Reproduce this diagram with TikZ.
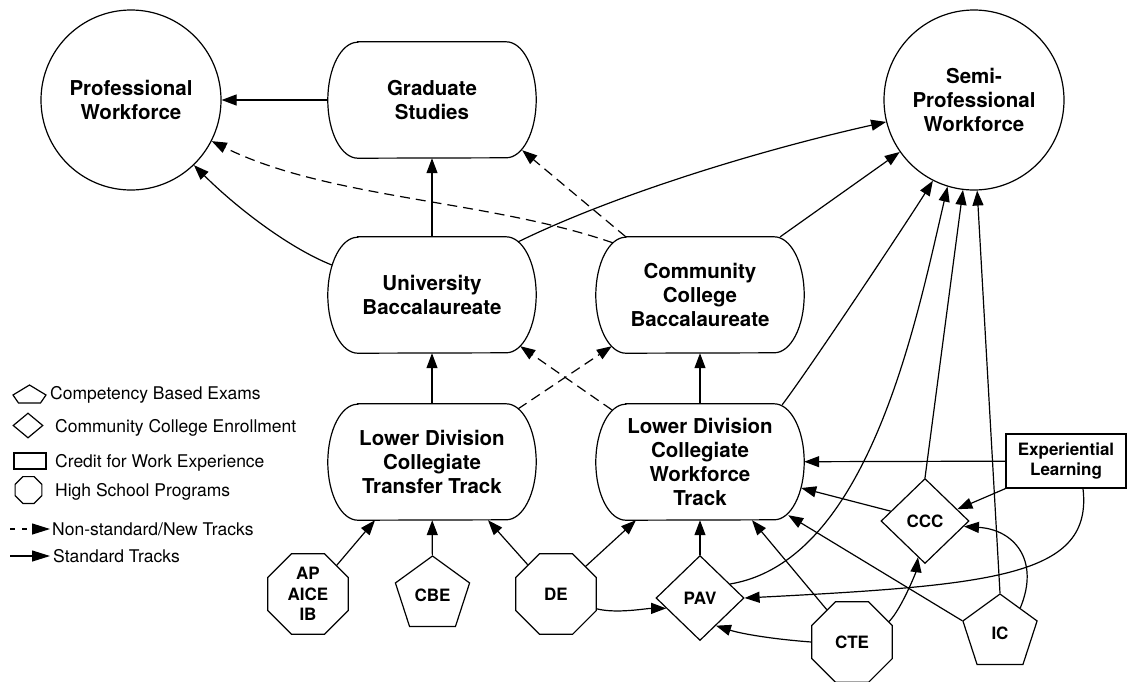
\documentclass[tikz,border=0pt]{standalone}
\usepackage{fontspec}
\setmainfont{TeX Gyre Heros}
\usetikzlibrary{arrows.meta,shapes.geometric}
\newcommand\trackfont{\bfseries\fontsize{20.5}{24}\selectfont}
\newcommand\tagfont{\bfseries\fontsize{17}{20.5}\selectfont}
\newcommand\keyfont{\fontsize{17.5}{21}\selectfont}
\tikzset{
  outline/.style={line width=1.2pt},
  track/.style={minimum width=208pt, minimum height=116pt, inner sep=0pt, align=center, font=\trackfont},
  goal/.style={circle, draw, outline, minimum size=180pt, align=center, font=\trackfont},
  hsprog/.style={regular polygon, regular polygon sides=8, draw, outline, minimum size=87pt, inner sep=0pt, align=center, font=\tagfont},
  exam/.style={regular polygon, regular polygon sides=5, draw, outline, minimum size=78pt, inner sep=0pt, font=\tagfont},
  enroll/.style={diamond, draw, outline, minimum width=88pt, minimum height=85pt, inner sep=0pt, font=\tagfont},
  workcred/.style={rectangle, draw, outline, minimum width=120pt, minimum height=54pt, inner sep=0pt, align=center, font=\tagfont},
  arr/.style={outline, -{Triangle[length=15pt,width=11pt]}},
  newtrack/.style={arr, dash pattern=on 10pt off 6pt},
  keyarr/.style={outline, -{Triangle[length=18pt,width=11pt]}},
  keytext/.style={anchor=base west, inner sep=0pt, font=\keyfont}
}
\begin{document}
\begin{tikzpicture}[x=1pt, y=1pt]
\useasboundingbox (0,0) rectangle (1133,-681);

\node[goal] (prof) at (131,-100) {Professional\\Workforce};
\node[goal] (semi) at (974,-100) {Semi-\\Professional\\Workforce};
\node[track] (grad) at (432,-100) {Graduate\\Studies};
\node[track] (univ) at (432,-295) {University\\Baccalaureate};
\node[track] (ccbac) at (700,-295) {Community\\College\\Baccalaureate};
\node[track] (ldtr) at (432,-462) {Lower Division\\Collegiate\\Transfer Track};
\node[track] (ldwf) at (700,-462) {Lower Division\\Collegiate\\Workforce\\Track};
\node[hsprog] (apib) at (308,-594) {AP\\AICE\\IB};
\node[exam] (cbe) at (432.5,-595) {CBE};
\node[hsprog] (de) at (556,-594) {DE};
\node[enroll] (pav) at (700,-598) {PAV};
\node[hsprog] (cte) at (852,-642) {CTE};
\node[enroll] (ccc) at (925,-521) {CCC};
\node[exam] (ic) at (1000,-633) {IC};
\node[workcred] (explearn) at (1066,-461) {Experiential\\Learning};

\foreach \t in {grad,univ,ccbac,ldtr,ldwf}
  \draw[outline] ([xshift=30pt]\t.north west) -- ([xshift=-30pt]\t.north east)
    arc[start angle=90, end angle=-90, x radius=30, y radius=58]
    -- ([xshift=30pt]\t.south west)
    arc[start angle=270, end angle=90, x radius=30, y radius=58] -- cycle;

\draw[arr] (grad) -- (prof);
\draw[arr] (univ) -- (grad);
\draw[arr] ([shift={(4,30)}]univ.west) .. controls +(-45,18) and +(40,-40) .. (prof.-46);
\draw[arr] ([shift={(-18,-5)}]univ.north east) .. controls +(92,45) and +(-134,-30) .. (semi.194);
\draw[newtrack] ([xshift=30pt]ccbac.north west) -- ([shift={(-14,8)}]grad.south east);
\draw[newtrack] ([shift={(17,-6)}]ccbac.north west) .. controls +(-124,43) and +(117,-58) .. (prof.-27);
\draw[arr] ([xshift=-24pt]ccbac.north east) -- (semi.215);
\draw[arr] (ldtr) -- (univ);
\draw[arr] (ldwf) -- (ccbac);
\draw[newtrack] ([shift={(-18,-5)}]ldtr.north east) -- ([shift={(16,7)}]ccbac.south west);
\draw[newtrack] ([shift={(16,-6)}]ldwf.north west) -- ([shift={(-16,7)}]univ.south east);
\draw[arr] ([shift={(-22,-1)}]ldwf.north east) .. controls +(30,40) and +(-25,-40) .. (semi.243);
\draw[arr] (apib.45) -- ([xshift=-57pt]ldtr.south);
\draw[arr] (cbe) -- (ldtr);
\draw[arr] (de.134) -- ([xshift=56pt]ldtr.south);
\draw[arr] (de.43) -- ([xshift=-64pt]ldwf.south);
\draw[arr] (de.-20) .. controls +(20,-5) and +(-20,0) .. (pav.197);
\draw[arr] (pav) -- (ldwf);
\draw[arr] (pav.25) .. controls +(138,23) and +(-32,-138) .. (semi.253);
\draw[arr] (cte.west) .. controls +(-40,3) and +(25,-8) .. (pav.-60);
\draw[arr] (cte.128) -- ([xshift=52pt]ldwf.south);
\draw[arr] (cte.29) .. controls +(12,12) and +(-2,-15) .. (ccc.259);
\draw[arr] (ccc.164) -- ([shift={(-3,-26)}]ldwf.east);
\draw[arr] (ccc.north) -- (semi.263);
\draw[arr] (ic.corner 2) -- ([shift={(-16,5)}]ldwf.south east);
\draw[arr] (ic.51) .. controls +(20,48) and +(50,-3) .. (ccc.-8);
\draw[arr] (ic.north) -- (semi.272);
\draw[arr] (explearn) -- (ldwf);
\draw[arr] (explearn.south west) -- (ccc.20);
\draw[arr] ([xshift=17pt]explearn.south) .. controls +(10,-87) and +(253,13) .. (pav.east);

\draw[outline] (29.5,-385) -- (13,-395) -- (18.5,-403) -- (40.5,-403) -- (46,-395) -- cycle;
\node[enroll, minimum width=30pt, minimum height=25pt] (keyenroll) at (28,-425.5) {};
\node[workcred, minimum width=32pt, minimum height=16pt] (keycred) at (30,-461) {};
\node[hsprog, minimum size=29pt] (keyhs) at (28.5,-490) {};
\node[keytext] (keyexamtxt) at (50,-399) {Competency Based Exams};
\node[keytext] (keyenrolltxt) at (55,-432) {Community College Enrollment};
\node[keytext] (keycredtxt) at (55,-467) {Credit for Work Experience};
\node[keytext] (keyhstxt) at (55,-496) {High School Programs};
\coordinate (keynewA) at (10,-529);
\coordinate (keynewB) at (50,-529);
\draw[keyarr, dash pattern=on 5pt off 7pt] (keynewA) -- (keynewB);
\node[keytext] (keynewtxt) at (52,-535) {Non-standard/New Tracks};
\coordinate (keystdA) at (10,-556);
\coordinate (keystdB) at (50,-556);
\draw[keyarr] (keystdA) -- (keystdB);
\node[keytext] (keystdtxt) at (53,-562) {Standard Tracks};
\end{tikzpicture}
\end{document}
